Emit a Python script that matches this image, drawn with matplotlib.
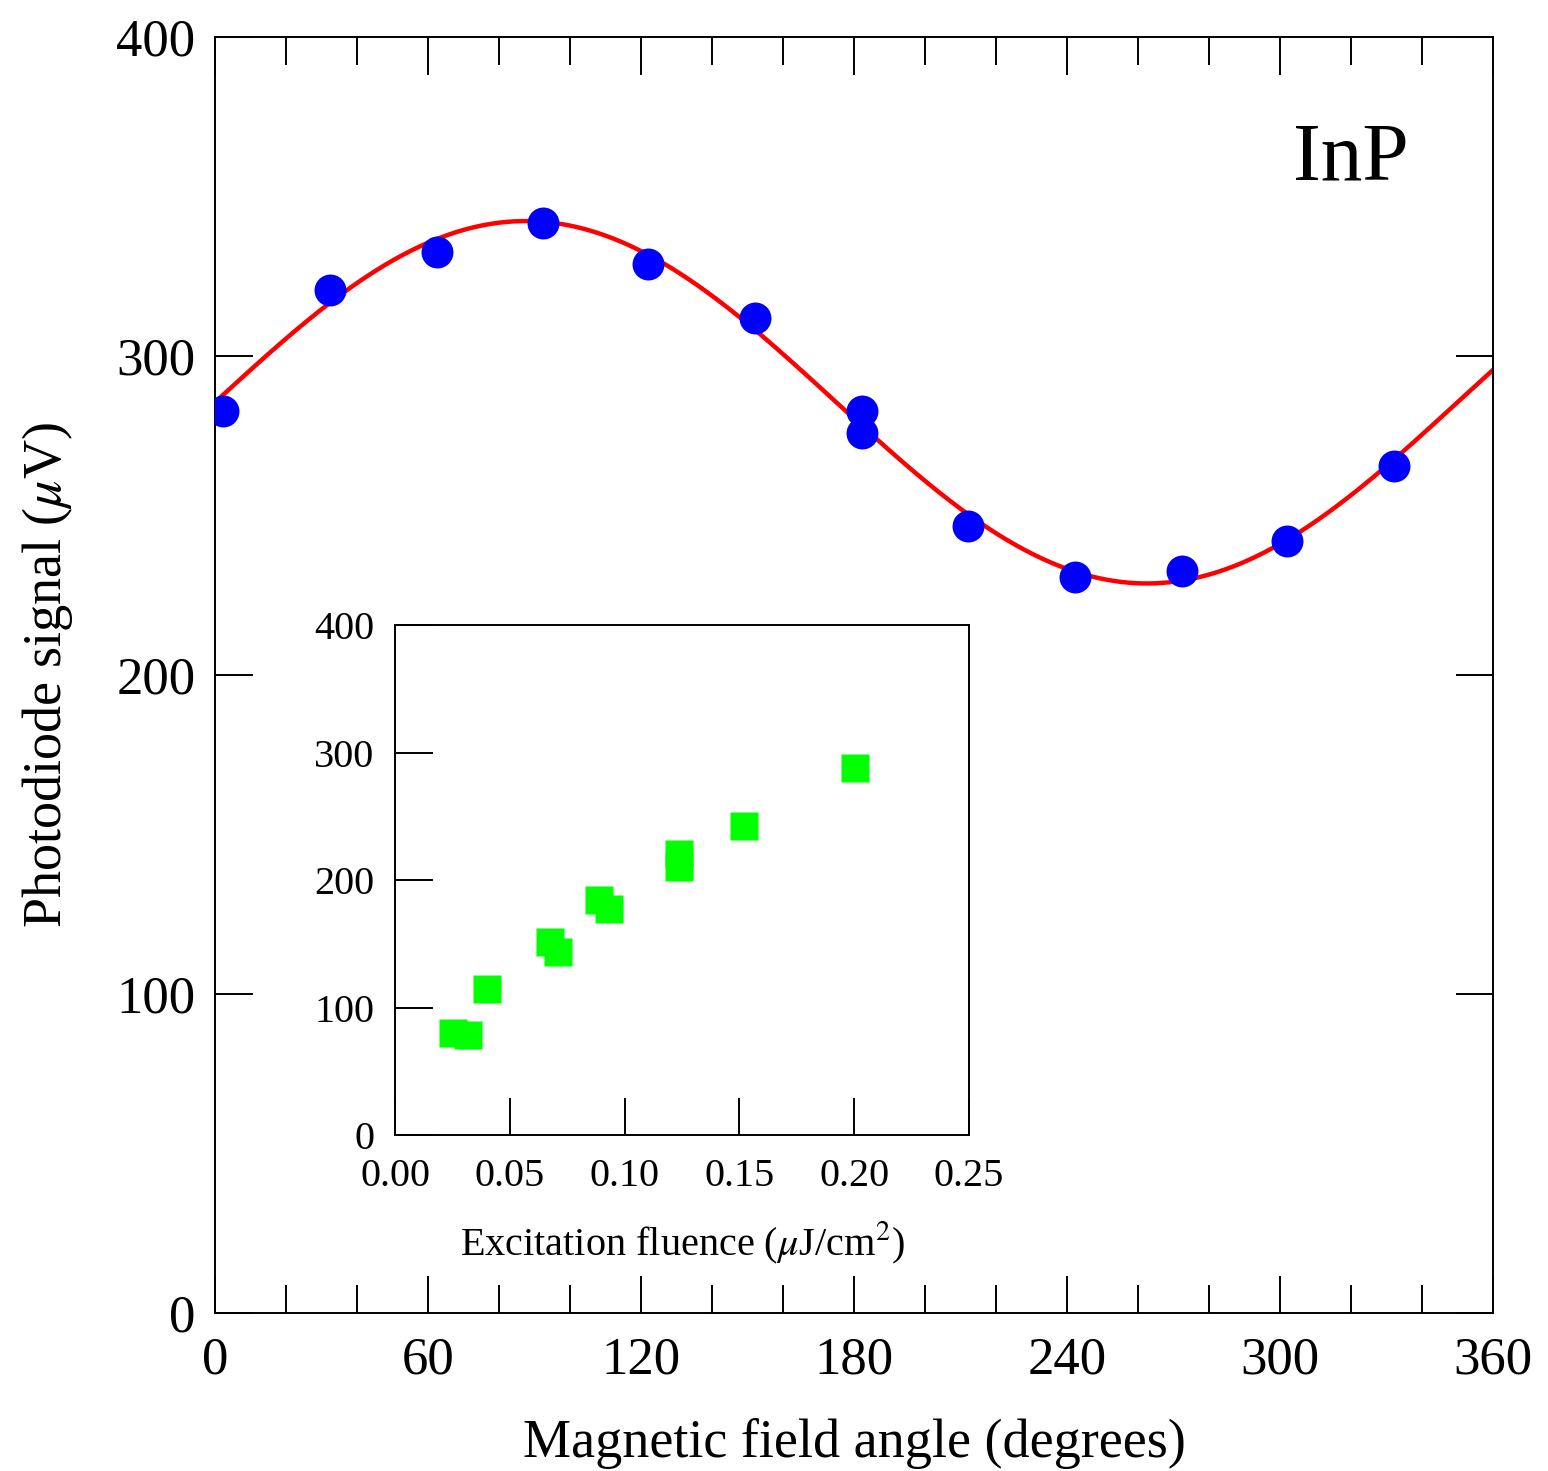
import numpy as np
import matplotlib
matplotlib.use('Agg')
import matplotlib.pyplot as plt

plt.rcParams['font.family'] = ['Liberation Serif', 'DejaVu Serif']
plt.rcParams['mathtext.fontset'] = 'stix'

# 磁场角度扫描 (InP)
angle_deg = [2.3, 32.4, 62.4, 92.3, 122.0, 152.1, 182.2, 182.2, 212.2, 242.3, 272.3, 302.0, 332.1]
signal_uv = [282.8, 320.7, 332.7, 341.8, 328.8, 311.9, 282.9, 275.8, 246.7, 230.6, 232.7, 242.0, 265.6]

# 正弦拟合参数: offset + amp * cos(2*pi*(x - peak) / period)
fit_offset = 285.5
fit_amp = 56.8
fit_period = 350.0
fit_peak = 87.5

# 插图: 信号随激发通量变化
fluence = [0.0252, 0.0316, 0.0399, 0.0677, 0.0709, 0.0890, 0.0933, 0.1235, 0.1235, 0.1519, 0.2002]
fluence_signal = [80.2, 78.8, 114.4, 151.6, 143.8, 184.6, 177.6, 220.8, 210.6, 242.2, 288.0]

W, H = 1548, 1471
fig = plt.figure(figsize=(W / 100, H / 100), dpi=100)

ax = fig.add_axes([215 / W, 1 - 1313 / H, (1493 - 215) / W, (1313 - 37) / H])
xf = np.linspace(0, 360, 721)
yf = fit_offset + fit_amp * np.cos(2 * np.pi * (xf - fit_peak) / fit_period)
ax.plot(xf, yf, color='#ff0000', lw=3.2, zorder=2)
ax.plot(angle_deg, signal_uv, 'o', color='#0000ff', ms=23, mec='none', zorder=3)

ax.set_xlim(0, 360)
ax.set_ylim(0, 400)
ax.set_xticks(np.arange(0, 361, 60))
ax.set_xticks(np.arange(0, 361, 20), minor=True)
ax.set_yticks(np.arange(0, 401, 100))
ax.tick_params(axis='both', which='major', direction='in', length=27, width=1.4,
               labelsize=38, top=True, right=True)
ax.tick_params(axis='x', which='major', pad=17)
ax.tick_params(axis='y', which='major', pad=14)
ax.tick_params(axis='x', which='minor', direction='in', length=20, width=1.4, top=True)
for s in ax.spines.values():
    s.set_linewidth(1.4)
ax.set_xlabel('Magnetic field angle (degrees)', fontsize=39, labelpad=24)
ax.set_ylabel(r'Photodiode signal ($\mu$V)', fontsize=39, labelpad=30)
ax.text(0.889, 0.904, 'InP', transform=ax.transAxes, fontsize=60,
        ha='center', va='center')

# 插图
ins = fig.add_axes([395 / W, 1 - 1135.3 / H, (969 - 395) / W, (1135.3 - 625) / H])
ins.plot(fluence, fluence_signal, 's', color='#00ff00', ms=20, mec='none')
ins.set_xlim(0, 0.25)
ins.set_ylim(0, 400)
ins.set_xticks(np.arange(0, 0.251, 0.05))
ins.set_xticklabels([f'{v:.2f}' for v in np.arange(0, 0.251, 0.05)])
ins.set_yticks(np.arange(0, 401, 100))
ins.tick_params(axis='both', direction='in', length=27, width=1.4, labelsize=29)
ins.tick_params(axis='x', pad=16)
ins.tick_params(axis='y', pad=15)
for s in ins.spines.values():
    s.set_linewidth(1.4)
ins.set_xlabel(r'Excitation fluence ($\mu$J/cm$^2$)', fontsize=29, labelpad=18)

fig.savefig('out.png', dpi=100)
